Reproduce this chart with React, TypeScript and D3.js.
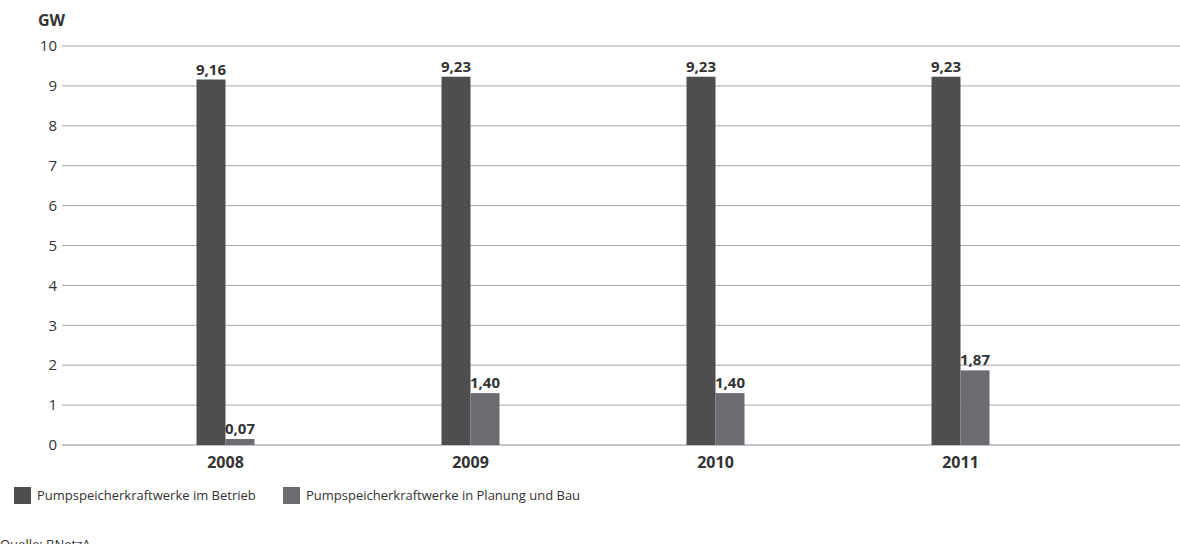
import React from "react";
import * as d3 from "d3";

const categories = ["2008", "2009", "2010", "2011"];
const seriesNames = [
  "Pumpspeicherkraftwerke im Betrieb",
  "Pumpspeicherkraftwerke in Planung und Bau",
];
const betrieb = [9.16, 9.23, 9.23, 9.23];
const planung = [0.15, 1.3, 1.3, 1.87];
const betriebLabels = ["9,16", "9,23", "9,23", "9,23"];
const planungLabels = ["0,07", "1,40", "1,40", "1,87"];
const yTicks = [0, 1, 2, 3, 4, 5, 6, 7, 8, 9, 10];
const colors = ["#4e4e50", "#6b6c70"];

const W = 1180;
const H = 544;
const FONT = "'Open Sans', 'Noto Sans', sans-serif";

export default function App() {
  const y = d3.scaleLinear().domain([0, 10]).range([445, 46]);
  const x = d3.scaleBand().domain(categories).range([103, 1083]).padding(0);
  const barW = 29;
  const series = [
    { values: betrieb, labels: betriebLabels, color: colors[0], off: -barW },
    { values: planung, labels: planungLabels, color: colors[1], off: 0 },
  ];
  return (
    <svg
      width={W}
      height={H}
      style={{ position: "absolute", left: 0, top: 0, background: "#fff" }}
      fontFamily={FONT}
    >
      <text x={38} y={26} fontSize={16} fontWeight={700} fill="#333">
        GW
      </text>
      {yTicks.map((t) => (
        <g key={t}>
          <line
            x1={62}
            x2={1180}
            y1={y(t)}
            y2={y(t)}
            stroke={t === 0 ? "#c4c4c4" : "#a8a8a8"}
            strokeWidth={t === 0 ? 2 : 1}
          />
          <text
            x={57}
            y={y(t)}
            dy="0.35em"
            textAnchor="end"
            fontSize={15}
            fill="#333"
          >
            {t}
          </text>
        </g>
      ))}
      {series.map((s, si) =>
        categories.map((c, i) => {
          const cx = (x(c) as number) + x.bandwidth() / 2;
          const bx = cx + s.off;
          return (
            <g key={si + "-" + c}>
              <rect
                x={bx}
                y={y(s.values[i])}
                width={barW}
                height={y(0) - y(s.values[i])}
                fill={s.color}
              />
              <text
                x={bx + barW / 2}
                y={y(s.values[i]) - 5}
                textAnchor="middle"
                fontSize={15}
                fontWeight={700}
                fill="#333"
              >
                {s.labels[i]}
              </text>
            </g>
          );
        })
      )}
      {categories.map((c) => (
        <text
          key={c}
          x={(x(c) as number) + x.bandwidth() / 2}
          y={468}
          textAnchor="middle"
          fontSize={16}
          fontWeight={700}
          fill="#333"
        >
          {c}
        </text>
      ))}
      <g>
        <rect x={14} y={487} width={17} height={17} fill={colors[0]} />
        <text x={37} y={500} fontSize={13} fill="#333">
          {seriesNames[0]}
        </text>
        <rect x={283} y={487} width={17} height={17} fill={colors[1]} />
        <text x={306} y={500} fontSize={13} fill="#333">
          {seriesNames[1]}
        </text>
      </g>
      <text x={0} y={549} fontSize={13} fill="#333">
        Quelle: BNetzA
      </text>
    </svg>
  );
}
